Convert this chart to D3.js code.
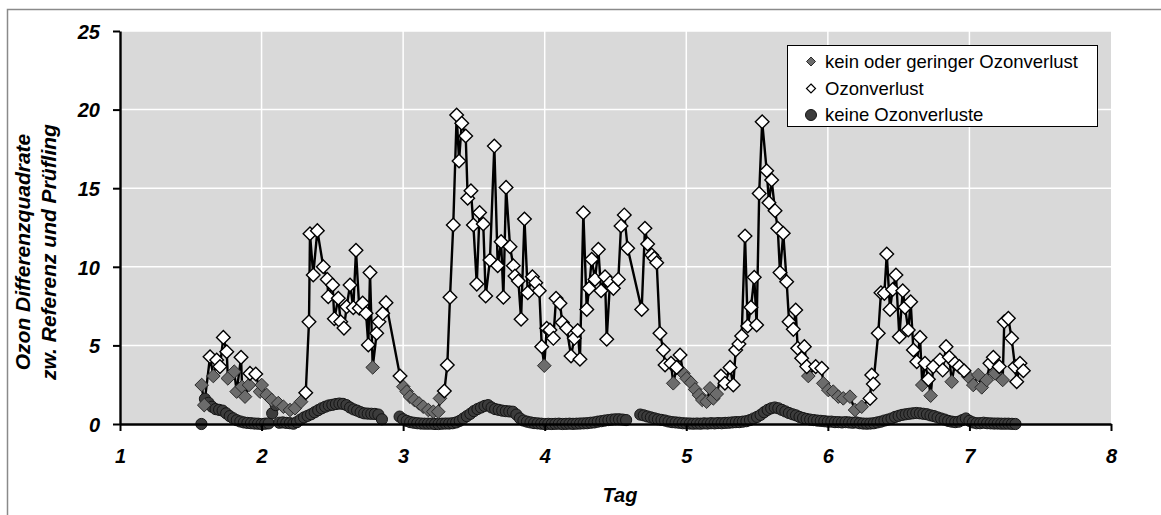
<!DOCTYPE html>
<html>
<head>
<meta charset="utf-8">
<script src="https://cdn.jsdelivr.net/npm/d3@7"></script>
<style>
  html, body { margin: 0; padding: 0; background: #ffffff; }
  svg { display: block; font-family: "Liberation Sans", Arial, sans-serif; }
</style>
</head>
<body>
<svg id="chart" width="1161" height="515"></svg>
<script>
// Ozone difference squares (reference vs. test instrument), per day
const xTicks = [1, 2, 3, 4, 5, 6, 7, 8];
const yTicks = [0, 5, 10, 15, 20, 25];
const legendLabels = ["kein oder geringer Ozonverlust", "Ozonverlust", "keine Ozonverluste"];

// Diamond series: measurement day, value, class (1 = Ozonverlust, 0 = kein oder geringer)
const diamondDays = [
  1.577, 1.595, 1.636, 1.659, 1.683, 1.706, 1.730, 1.754, 1.762, 1.807, 1.824, 1.855, 1.862, 1.883, 1.911, 1.918,
  1.959, 1.989, 2.001, 2.036, 2.072, 2.118, 2.154, 2.201, 2.236, 2.279, 2.312, 2.335, 2.342, 2.365, 2.394, 2.436,
  2.464, 2.471, 2.502, 2.514, 2.542, 2.559, 2.582, 2.601, 2.625, 2.648, 2.667, 2.690, 2.714, 2.738, 2.754, 2.766,
  2.785, 2.813, 2.829, 2.856, 2.879, 2.978, 3.001, 3.025, 3.048, 3.079, 3.112, 3.142, 3.178, 3.213, 3.248, 3.260,
  3.291, 3.312, 3.331, 3.354, 3.378, 3.395, 3.414, 3.442, 3.456, 3.479, 3.496, 3.520, 3.540, 3.566, 3.583, 3.613,
  3.644, 3.668, 3.692, 3.708, 3.727, 3.755, 3.778, 3.790, 3.814, 3.833, 3.857, 3.880, 3.913, 3.937, 3.962, 3.979,
  3.997, 4.014, 4.037, 4.061, 4.080, 4.108, 4.124, 4.155, 4.186, 4.209, 4.233, 4.249, 4.273, 4.297, 4.313, 4.332,
  4.355, 4.379, 4.398, 4.426, 4.438, 4.461, 4.485, 4.520, 4.539, 4.562, 4.586, 4.685, 4.708, 4.727, 4.756, 4.774,
  4.791, 4.814, 4.838, 4.850, 4.892, 4.908, 4.932, 4.956, 4.979, 5.003, 5.033, 5.062, 5.090, 5.113, 5.144, 5.168,
  5.191, 5.215, 5.245, 5.273, 5.309, 5.332, 5.349, 5.372, 5.391, 5.415, 5.434, 5.457, 5.480, 5.497, 5.515, 5.536,
  5.568, 5.584, 5.603, 5.627, 5.646, 5.662, 5.685, 5.709, 5.726, 5.756, 5.773, 5.787, 5.815, 5.834, 5.851, 5.862,
  5.914, 5.957, 5.968, 6.003, 6.038, 6.074, 6.109, 6.156, 6.192, 6.239, 6.298, 6.310, 6.321, 6.356, 6.375, 6.399,
  6.416, 6.439, 6.458, 6.481, 6.505, 6.529, 6.545, 6.568, 6.585, 6.604, 6.628, 6.651, 6.667, 6.686, 6.710, 6.726,
  6.745, 6.792, 6.811, 6.835, 6.858, 6.875, 6.898, 6.929, 6.962, 6.992, 7.027, 7.063, 7.087, 7.122, 7.145, 7.169,
  7.181, 7.211, 7.235, 7.246, 7.275, 7.298, 7.322, 7.334, 7.357, 7.381
];
const diamondValues = [
  2.48, 1.20, 4.28, 3.05, 4.07, 3.65, 5.51, 4.60, 2.90, 3.33, 2.06, 4.24, 2.37, 1.74, 2.48, 3.22,
  3.18, 2.06, 2.48, 1.85, 1.53, 1.33, 1.10, 0.89, 1.00, 1.42, 1.99, 6.50, 12.10, 9.48, 12.30, 10.00,
  9.20, 8.10, 8.84, 6.70, 8.00, 6.50, 6.10, 7.46, 8.84, 7.40, 11.05, 7.36, 7.70, 7.04, 5.03, 9.63,
  3.60, 5.77, 6.50, 7.04, 7.72, 3.05, 2.37, 2.06, 1.74, 1.53, 1.31, 1.10, 0.89, 0.78, 0.78, 1.63,
  2.10, 3.75, 8.06, 12.66, 19.66, 16.73, 19.13, 18.32, 14.36, 14.84, 12.66, 8.90, 13.45, 12.72, 8.14, 10.43,
  17.68, 10.07, 11.60, 8.06, 15.05, 11.28, 10.07, 9.41, 9.10, 6.66, 13.04, 8.35, 9.37, 8.99, 8.48, 4.92,
  3.71, 6.09, 5.98, 5.45, 8.00, 7.68, 6.45, 6.09, 4.33, 5.45, 5.94, 4.12, 13.44, 7.29, 8.63, 10.48,
  9.20, 11.11, 8.48, 9.37, 5.39, 8.99, 8.63, 9.20, 12.60, 13.30, 11.18, 7.29, 12.45, 11.45, 10.75, 10.54,
  10.26, 5.77, 4.71, 3.75, 3.86, 2.59, 3.60, 4.39, 3.22, 2.90, 2.63, 2.20, 1.84, 1.53, 1.42, 2.27,
  1.63, 1.91, 3.05, 2.59, 3.60, 2.48, 4.71, 5.09, 5.60, 11.96, 6.23, 7.42, 9.33, 6.30, 14.67, 19.23,
  16.11, 14.08, 15.52, 13.57, 12.45, 9.63, 12.13, 9.05, 6.51, 6.02, 7.25, 4.82, 4.18, 4.92, 3.65, 3.05,
  3.65, 3.54, 2.59, 2.16, 2.06, 1.74, 1.63, 1.74, 0.89, 1.10, 1.63, 3.12, 2.54, 5.77, 8.35, 8.31,
  10.81, 7.29, 8.56, 9.48, 5.55, 8.48, 7.42, 5.98, 7.78, 4.71, 3.96, 5.51, 2.48, 3.86, 2.84, 1.80,
  3.65, 4.07, 3.43, 4.92, 4.24, 2.69, 3.86, 3.65, 3.39, 3.01, 2.48, 3.12, 2.33, 2.80, 3.86, 4.24,
  3.22, 3.65, 2.80, 6.50, 6.72, 5.45, 3.65, 2.69, 3.86, 3.39
];
const diamondLoss = [
  0, 0, 1, 0, 1, 1, 1, 1, 0, 0, 0, 1, 0, 0, 0, 1,
  1, 0, 0, 0, 0, 0, 0, 0, 0, 0, 1, 1, 1, 1, 1, 1,
  1, 1, 1, 1, 1, 1, 1, 1, 1, 1, 1, 1, 1, 1, 1, 1,
  0, 1, 1, 1, 1, 1, 0, 0, 0, 0, 0, 0, 0, 0, 0, 0,
  1, 1, 1, 1, 1, 1, 1, 1, 1, 1, 1, 1, 1, 1, 1, 1,
  1, 1, 1, 1, 1, 1, 1, 1, 1, 1, 1, 1, 1, 1, 1, 1,
  0, 1, 1, 1, 1, 1, 1, 1, 1, 1, 1, 1, 1, 1, 1, 1,
  1, 1, 1, 1, 1, 1, 1, 1, 1, 1, 1, 1, 1, 1, 1, 1,
  1, 1, 1, 1, 1, 0, 1, 1, 0, 0, 0, 0, 0, 0, 0, 0,
  0, 0, 1, 1, 1, 1, 1, 1, 1, 1, 1, 1, 1, 1, 1, 1,
  1, 1, 1, 1, 1, 1, 1, 1, 1, 1, 1, 1, 1, 1, 1, 0,
  1, 1, 0, 0, 0, 0, 0, 0, 0, 0, 1, 1, 1, 1, 1, 1,
  1, 1, 1, 1, 1, 1, 1, 1, 1, 1, 1, 1, 0, 1, 1, 0,
  1, 1, 1, 1, 1, 0, 1, 1, 1, 0, 0, 0, 0, 0, 1, 1,
  0, 1, 0, 1, 1, 1, 1, 1, 1, 1
];

// Circle series "keine Ozonverluste": runs sampled every 0.025 day
const circleStep = 0.025;
const circleRunStarts = [1.575, 2.975, 4.675];
const circleRunA = [
  0.00, 1.60, 1.35, 1.10, 0.95, 0.90, 0.85, 0.68, 0.50, 0.36, 0.24, 0.16, 0.10, 0.07, 0.05, 0.03,
  0.02, 0.00, 0.02, 0.04, 0.68, 1.20, 0.08, 0.10, 0.07, 0.05, 0.02, 0.12, 0.28, 0.42, 0.52, 0.62,
  0.75, 0.88, 1.00, 1.10, 1.18, 1.22, 1.27, 1.30, 1.28, 1.20, 1.05, 0.93, 0.85, 0.75, 0.68, 0.66,
  0.65, 0.64, 0.60, 0.30
];
const circleRunB = [
  0.47, 0.30, 0.20, 0.12, 0.08, 0.05, 0.03, 0.02, 0.02, 0.02, 0.00, 0.00, 0.02, 0.03, 0.03, 0.05,
  0.10, 0.20, 0.35, 0.50, 0.65, 0.82, 0.95, 1.05, 1.15, 1.20, 1.05, 0.95, 0.90, 0.85, 0.82, 0.80,
  0.78, 0.60, 0.36, 0.22, 0.15, 0.10, 0.06, 0.04, 0.02, 0.00, 0.01, 0.00, 0.01, 0.02, 0.00, 0.01,
  0.02, 0.01, 0.02, 0.03, 0.04, 0.05, 0.08, 0.10, 0.15, 0.18, 0.22, 0.25, 0.28, 0.30, 0.30, 0.28,
  0.25
];
const circleRunC = [
  0.60, 0.55, 0.48, 0.42, 0.36, 0.30, 0.26, 0.22, 0.16, 0.12, 0.10, 0.08, 0.05, 0.04, 0.03, 0.02,
  0.03, 0.02, 0.04, 0.03, 0.05, 0.04, 0.06, 0.05, 0.07, 0.08, 0.10, 0.12, 0.12, 0.15, 0.18, 0.25,
  0.35, 0.45, 0.58, 0.75, 0.90, 1.00, 1.05, 1.00, 0.90, 0.80, 0.70, 0.62, 0.55, 0.45, 0.38, 0.32,
  0.28, 0.25, 0.22, 0.20, 0.18, 0.15, 0.15, 0.12, 0.12, 0.10, 0.12, 0.10, 0.08, 0.10, 0.05, 0.03,
  0.02, 0.03, 0.05, 0.10, 0.15, 0.22, 0.28, 0.35, 0.45, 0.52, 0.58, 0.62, 0.65, 0.68, 0.70, 0.68,
  0.65, 0.62, 0.55, 0.50, 0.42, 0.35, 0.28, 0.20, 0.15, 0.12, 0.15, 0.25, 0.35, 0.20, 0.10, 0.05,
  0.05, 0.08, 0.05, 0.04, 0.03, 0.03, 0.02, 0.02, 0.02, 0.01, 0.00
];

const diamonds = diamondDays.map((d, i) => ({ day: d, value: diamondValues[i], loss: diamondLoss[i] }));
const circles = [];
[circleRunA, circleRunB, circleRunC].forEach((run, r) => {
  run.forEach((v, i) => circles.push({ day: circleRunStarts[r] + i * circleStep, value: v }));
});

const svg = d3.select("#chart");
const x = d3.scaleLinear().domain([1, 8]).range([120, 1111]);
const y = d3.scaleLinear().domain([0, 25]).range([424, 31]);

// outer chart frame
svg.append("rect")
  .attr("x", 7.5).attr("y", 9.5).attr("width", 1300).attr("height", 700)
  .attr("fill", "none").attr("stroke", "#8a8a8a").attr("stroke-width", 1.5);

// plot area
svg.append("rect")
  .attr("x", x(1)).attr("y", y(25))
  .attr("width", x(8) - x(1)).attr("height", y(0) - y(25))
  .attr("fill", "#d9d9d9");

// gridlines
const grid = svg.append("g").attr("stroke", "#ffffff").attr("stroke-width", 1.5);
grid.selectAll("line.h").data(yTicks.filter(v => v > 0)).join("line")
  .attr("x1", x(1)).attr("x2", x(8)).attr("y1", d => y(d)).attr("y2", d => y(d));
grid.selectAll("line.v").data(xTicks.filter(v => v > 1 && v < 8)).join("line")
  .attr("x1", d => x(d)).attr("x2", d => x(d)).attr("y1", y(0)).attr("y2", y(25));

// line through all diamond markers
const line = d3.line().x(d => x(d.day)).y(d => y(d.value));
svg.append("path").datum(diamonds)
  .attr("d", line).attr("fill", "none")
  .attr("stroke", "#000").attr("stroke-width", 2.4).attr("stroke-linejoin", "round");

const diamondPath = h => `M0,${-h}L${h},0L0,${h}L${-h},0Z`;

// circles (no loss)
svg.append("g").selectAll("circle").data(circles).join("circle")
  .attr("cx", d => x(d.day)).attr("cy", d => y(d.value)).attr("r", 5.6)
  .attr("fill", "#3c3c3c").attr("stroke", "#141414").attr("stroke-width", 1);

// gray diamonds (no or minor loss)
svg.append("g").selectAll("path").data(diamonds.filter(d => !d.loss)).join("path")
  .attr("transform", d => `translate(${x(d.day)},${y(d.value)})`)
  .attr("d", diamondPath(6.8))
  .attr("fill", "#6c6c6c").attr("stroke", "#2a2a2a").attr("stroke-width", 1);

// white diamonds (ozone loss)
svg.append("g").selectAll("path").data(diamonds.filter(d => d.loss)).join("path")
  .attr("transform", d => `translate(${x(d.day)},${y(d.value)})`)
  .attr("d", diamondPath(6.8))
  .attr("fill", "#ffffff").attr("stroke", "#000").attr("stroke-width", 1.4);

// axes
const axisFont = g => g.selectAll("text")
  .attr("font-family", "'Liberation Sans', Arial, sans-serif")
  .attr("font-size", 20).attr("font-weight", "bold").attr("font-style", "italic").attr("fill", "#000");

svg.append("g").attr("transform", `translate(${x(1)},0)`)
  .call(d3.axisLeft(y).tickValues(yTicks).tickSize(7).tickSizeOuter(0).tickPadding(13).tickFormat(d3.format("d")))
  .call(g => g.select(".domain").attr("stroke", "#000").attr("stroke-width", 2.4))
  .call(g => g.selectAll(".tick line").attr("stroke", "#000").attr("stroke-width", 2))
  .call(axisFont)
  .call(g => g.selectAll("text").attr("dy", "0.36em"));

svg.append("g").attr("transform", `translate(0,${y(0)})`)
  .call(d3.axisBottom(x).tickValues(xTicks).tickSize(7).tickSizeOuter(0).tickPadding(18).tickFormat(d3.format("d")))
  .call(g => g.select(".domain").attr("stroke", "#000").attr("stroke-width", 2.4))
  .call(g => g.selectAll(".tick line").attr("stroke", "#000").attr("stroke-width", 2))
  .call(axisFont);

// axis titles
svg.append("text")
  .attr("x", 620).attr("y", 502).attr("text-anchor", "middle")
  .attr("font-size", 20).attr("font-weight", "bold").attr("font-style", "italic")
  .text("Tag");

const yTitle = svg.append("text")
  .attr("transform", "translate(0,252) rotate(-90)")
  .attr("text-anchor", "middle")
  .attr("font-size", 21).attr("font-weight", "bold").attr("font-style", "italic");
yTitle.append("tspan").attr("x", 0).attr("y", 30).text("Ozon Differenzquadrate");
yTitle.append("tspan").attr("x", 0).attr("y", 56).text("zw. Referenz und Prüfling");

// legend
const legend = svg.append("g");
legend.append("rect")
  .attr("x", 787.5).attr("y", 45.5).attr("width", 310).attr("height", 81)
  .attr("fill", "#ffffff").attr("stroke", "#000").attr("stroke-width", 1);
const rows = [61.5, 88.5, 115];
legend.append("path").attr("transform", `translate(811,${rows[0]})`)
  .attr("d", diamondPath(4.5)).attr("fill", "#6c6c6c").attr("stroke", "#2a2a2a").attr("stroke-width", 1);
legend.append("path").attr("transform", `translate(811,${rows[1]})`)
  .attr("d", diamondPath(4.5)).attr("fill", "#ffffff").attr("stroke", "#000").attr("stroke-width", 1.2);
legend.append("circle").attr("cx", 811).attr("cy", rows[2]).attr("r", 5.5)
  .attr("fill", "#3c3c3c").attr("stroke", "#141414").attr("stroke-width", 1);
legend.selectAll("text.l").data(legendLabels).join("text")
  .attr("x", 825).attr("y", (d, i) => rows[i]).attr("dy", "0.35em")
  .attr("font-size", 18.5).attr("fill", "#000")
  .text(d => d);
</script>
</body>
</html>
